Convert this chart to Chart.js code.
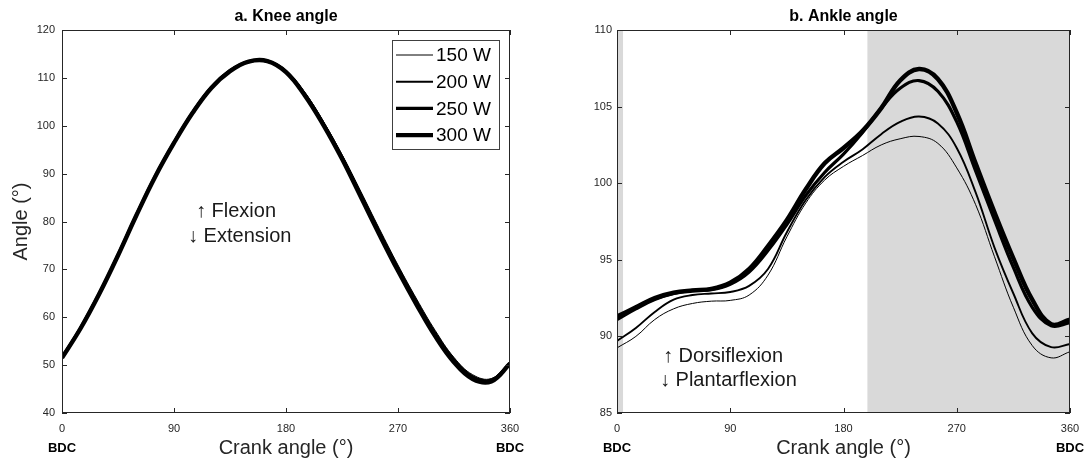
<!DOCTYPE html>
<html>
<head>
<meta charset="utf-8">
<script src="https://cdn.jsdelivr.net/npm/chart.js@4.4.1/dist/chart.umd.min.js"></script>
<style>
  html, body { margin: 0; padding: 0; background: #ffffff; }
  #wrap { position: relative; width: 1089px; height: 469px; overflow: hidden; }
  canvas { position: absolute; top: 0; }
</style>
</head>
<body>
<div id="wrap">
  <canvas id="knee" width="545" height="469" style="left:0px"></canvas>
  <canvas id="ankle" width="544" height="469" style="left:545px"></canvas>
</div>
<script>
// ---------------- DATA ----------------
const crankAngles = [0, 15, 30, 45, 60, 75, 90, 105, 120, 135, 150, 165, 180, 195, 210, 225, 240, 255, 270, 285, 300, 315, 330, 345, 360];
const powerLabels = ['150 W', '200 W', '250 W', '300 W'];

const knee150 = [51.8, 58.0, 65.2, 73.2, 81.7, 89.7, 96.7, 103.0, 108.2, 111.7, 113.5, 113.6, 111.5, 107.0, 100.9, 94.0, 86.3, 78.5, 70.9, 63.8, 57.2, 51.6, 48.0, 47.2, 50.6];
const knee200 = [51.7, 57.9, 65.1, 73.1, 81.6, 89.6, 96.6, 102.9, 108.1, 111.6, 113.5, 113.6, 111.4, 106.8, 100.7, 93.7, 86.0, 78.1, 70.5, 63.4, 56.8, 51.3, 47.7, 47.0, 50.5];
const knee250 = [51.6, 57.8, 65.0, 73.0, 81.5, 89.5, 96.5, 102.8, 108.0, 111.5, 113.4, 113.5, 111.3, 106.6, 100.4, 93.3, 85.5, 77.6, 70.0, 62.9, 56.3, 50.9, 47.4, 46.8, 50.4];
const knee300 = [51.5, 57.7, 64.9, 72.9, 81.4, 89.4, 96.4, 102.7, 107.9, 111.4, 113.4, 113.5, 111.2, 106.4, 100.2, 93.1, 85.2, 77.3, 69.7, 62.6, 56.0, 50.6, 47.1, 46.6, 50.3];

const ankle150 = [89.25, 90.0, 91.1, 91.8, 92.15, 92.3, 92.35, 92.7, 94.0, 96.5, 98.7, 100.2, 101.1, 101.8, 102.5, 102.9, 103.05, 102.6, 101.0, 98.6, 95.2, 91.9, 89.4, 88.6, 89.0];
const ankle200 = [89.7, 90.55, 91.6, 92.4, 92.7, 92.8, 92.9, 93.3, 94.4, 96.8, 98.9, 100.4, 101.4, 102.2, 103.2, 104.0, 104.35, 103.9, 102.3, 99.4, 95.8, 92.8, 90.2, 89.3, 89.5];
const ankle250 = [91.1, 91.8, 92.4, 92.8, 93.0, 93.05, 93.4, 94.2, 95.6, 97.3, 99.2, 100.7, 101.9, 103.3, 104.9, 106.2, 106.7, 106.0, 104.0, 100.8, 97.6, 94.5, 91.9, 90.7, 90.9];
const ankle300 = [91.3, 91.9, 92.5, 92.85, 93.0, 93.1, 93.5, 94.4, 95.9, 97.6, 99.6, 101.3, 102.3, 103.4, 104.9, 106.7, 107.45, 106.8, 104.6, 101.3, 98.1, 95.1, 92.4, 90.8, 91.1];

const xTickValues = [0, 90, 180, 270, 360];
const kneeYTicks = [40, 50, 60, 70, 80, 90, 100, 110, 120];
const ankleYTicks = [85, 90, 95, 100, 105, 110];
const shadedRanges = [[0, 4.8], [199, 360]];

// ---------------- STYLE ----------------
const FONT = '"Liberation Sans", Arial, Helvetica, sans-serif';
Chart.defaults.font.family = FONT;
const AXIS_COLOR = '#262626';
const lineWidths = [1, 1.9, 3.2, 4.4];

function seriesData(vals) {
  return crankAngles.map((a, i) => ({ x: a, y: vals[i] }));
}

function makeDatasets(list) {
  return list.map((vals, i) => ({
    label: powerLabels[i],
    data: seriesData(vals),
    borderColor: '#000000',
    backgroundColor: '#000000',
    borderWidth: lineWidths[i],
    pointRadius: 0,
    tension: 0.4,
    fill: false
  }));
}

function makeDecor(cfg) {
  return {
    id: 'decor_' + cfg.name,
    beforeDatasetsDraw(chart) {
      const { ctx, chartArea: a, scales: { x } } = chart;
      if (cfg.shade) {
        ctx.save();
        ctx.fillStyle = '#d9d9d9';
        cfg.shade.forEach(([s, e]) => {
          const x0 = x.getPixelForValue(s), x1 = x.getPixelForValue(e);
          ctx.fillRect(x0, a.top, x1 - x0, a.bottom - a.top);
        });
        ctx.restore();
      }
    },
    afterDraw(chart) {
      const { ctx, chartArea: a, scales: { x, y } } = chart;
      ctx.save();
      // box
      ctx.strokeStyle = AXIS_COLOR;
      ctx.lineWidth = 1;
      ctx.strokeRect(Math.round(a.left) + 0.5, Math.round(a.top) + 0.5,
                     Math.round(a.right - a.left) - 1, Math.round(a.bottom - a.top) - 1);
      // inward ticks
      const tl = 5;
      ctx.beginPath();
      cfg.xTicks.forEach(v => {
        const px = Math.round(x.getPixelForValue(v)) + 0.5;
        ctx.moveTo(px, a.bottom); ctx.lineTo(px, a.bottom - tl);
        ctx.moveTo(px, a.top); ctx.lineTo(px, a.top + tl);
      });
      cfg.yTicks.forEach(v => {
        const py = Math.round(y.getPixelForValue(v)) + 0.5;
        ctx.moveTo(a.left, py); ctx.lineTo(a.left + tl, py);
        ctx.moveTo(a.right, py); ctx.lineTo(a.right - tl, py);
      });
      ctx.stroke();
      // title
      ctx.fillStyle = '#000000';
      ctx.textAlign = 'center';
      ctx.textBaseline = 'middle';
      ctx.font = 'bold 16px ' + FONT;
      ctx.fillText(cfg.title, (a.left + a.right) / 2, 17);
      // BDC labels
      ctx.font = 'bold 13px ' + FONT;
      ctx.fillText('BDC', x.getPixelForValue(0), 448);
      ctx.fillText('BDC', x.getPixelForValue(360), 448);
      // annotations
      ctx.font = '20px ' + FONT;
      ctx.fillStyle = '#1a1a1a';
      ctx.textAlign = 'left';
      cfg.notes.forEach(n => {
        ctx.fillText(n.text, x.getPixelForValue(n.x), y.getPixelForValue(n.y));
      });
      // legend
      if (cfg.legend) {
        const L = cfg.legend;
        ctx.fillStyle = '#ffffff';
        ctx.fillRect(L.x, L.y, L.w, L.h);
        ctx.strokeStyle = '#404040';
        ctx.lineWidth = 1;
        ctx.strokeRect(L.x + 0.5, L.y + 0.5, L.w, L.h);
        ctx.font = '19px ' + FONT;
        ctx.fillStyle = '#000000';
        ctx.textBaseline = 'middle';
        chart.data.datasets.forEach((ds, i) => {
          const ry = L.y + 15 + i * 26.7;
          ctx.strokeStyle = '#000000';
          ctx.lineWidth = ds.borderWidth;
          ctx.beginPath();
          ctx.moveTo(L.x + 4, ry); ctx.lineTo(L.x + 41, ry);
          ctx.stroke();
          ctx.fillText(ds.label, L.x + 44, ry + 1);
        });
      }
      ctx.restore();
    }
  };
}

function makeOptions(cfg) {
  return {
    responsive: false,
    animation: false,
    events: [],
    layout: { padding: { top: 30, right: cfg.padRight, left: 0, bottom: 0 } },
    plugins: { legend: { display: false }, tooltip: { enabled: false }, title: { display: false } },
    scales: {
      x: {
        type: 'linear',
        min: 0, max: 360,
        afterBuildTicks: s => { s.ticks = xTickValues.map(v => ({ value: v })); },
        afterFit: s => { s.height = 56; },
        grid: { display: false, drawTicks: false },
        border: { display: false },
        ticks: { color: AXIS_COLOR, font: { size: 11 }, padding: 9, maxRotation: 0, autoSkip: false },
        title: { display: true, text: 'Crank angle (°)', color: AXIS_COLOR, font: { size: 20 }, padding: { top: 0, bottom: 9 } }
      },
      y: {
        type: 'linear',
        min: cfg.yMin, max: cfg.yMax,
        afterBuildTicks: s => { s.ticks = cfg.yTicks.map(v => ({ value: v })); },
        afterFit: s => { s.width = cfg.yWidth; },
        grid: { display: false, drawTicks: false },
        border: { display: false },
        ticks: { color: AXIS_COLOR, font: { size: 11 }, padding: cfg.yPad, autoSkip: false },
        title: { display: !!cfg.yTitle, text: cfg.yTitle || '', color: AXIS_COLOR, font: { size: 20 }, padding: { top: 9, bottom: 0 } }
      }
    }
  };
}

// ---------------- KNEE ----------------
const kneeCfg = {
  name: 'knee', title: 'a. Knee angle', yMin: 40, yMax: 120, yTicks: kneeYTicks,
  yWidth: 62, yPad: 7, padRight: 35, yTitle: 'Angle (°)',
  xTicks: xTickValues,
  notes: [{ text: '↑ Flexion', x: 107.7, y: 82.0 }, { text: '↓ Extension', x: 101.3, y: 76.8 }],
  legend: { x: 392, y: 40, w: 107, h: 109 }
};
new Chart(document.getElementById('knee'), {
  type: 'line',
  data: { datasets: makeDatasets([knee150, knee200, knee250, knee300]) },
  options: makeOptions(kneeCfg),
  plugins: [makeDecor(kneeCfg)]
});

// ---------------- ANKLE ----------------
const ankleCfg = {
  name: 'ankle', title: 'b. Ankle angle', yMin: 85, yMax: 110, yTicks: ankleYTicks,
  yWidth: 72, yPad: 5, padRight: 19, yTitle: null,
  xTicks: xTickValues, shade: shadedRanges,
  notes: [{ text: '↑ Dorsiflexion', x: 36.6, y: 88.7 }, { text: '↓ Plantarflexion', x: 34.2, y: 87.1 }],
  legend: null
};
new Chart(document.getElementById('ankle'), {
  type: 'line',
  data: { datasets: makeDatasets([ankle150, ankle200, ankle250, ankle300]) },
  options: makeOptions(ankleCfg),
  plugins: [makeDecor(ankleCfg)]
});
</script>
</body>
</html>
